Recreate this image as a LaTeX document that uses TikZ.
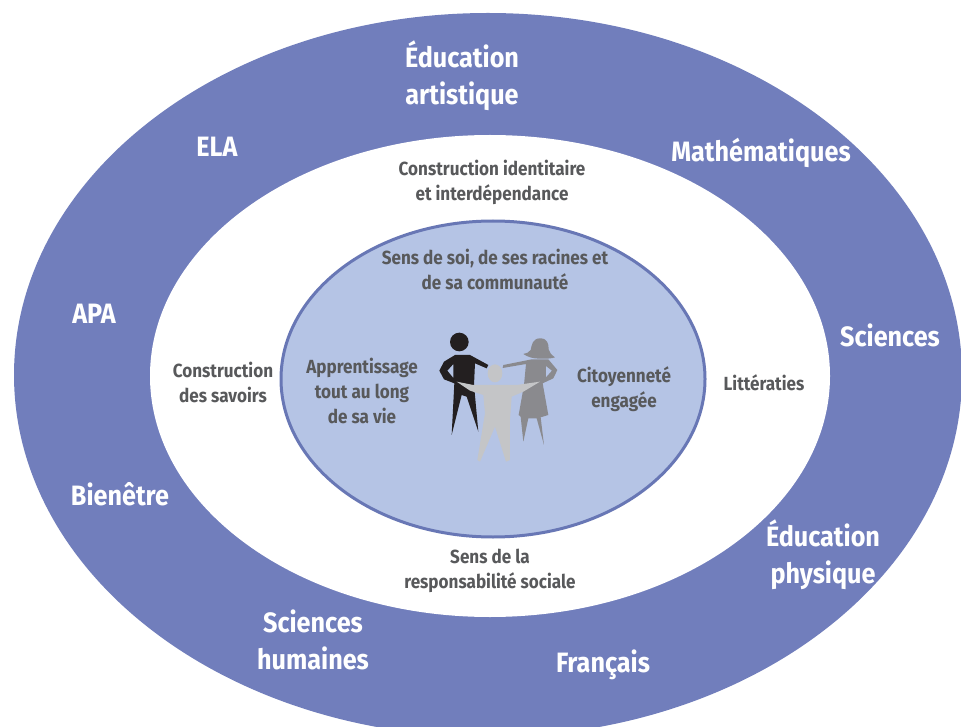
\documentclass[tikz,border=0pt]{standalone}
\usepackage{fontspec}
\setmainfont[FakeStretch=0.9]{Fira Sans}
\usepackage{tikz}
\definecolor{outerblue}{HTML}{717EBC}
\definecolor{innerblue}{HTML}{B5C4E5}
\definecolor{ringblue}{HTML}{6877B5}
\definecolor{labelgray}{HTML}{58595B}
\definecolor{adultdark}{HTML}{231F20}
\definecolor{adultgray}{HTML}{8A8A8E}
\definecolor{childgray}{HTML}{C4C5C7}
\begin{document}
\begin{tikzpicture}[x=1pt,y=-1pt,
		biglabel/.style={text=white, font=\fontsize{28}{37}\selectfont\bfseries, align=center},
		midlabel/.style={text=labelgray, font=\fontsize{19}{25}\selectfont\bfseries, align=center},
	]
	\useasboundingbox (0,0) rectangle (961,727);
	\fill[white] (0,0) rectangle (961,727);
	\fill[outerblue] (488,375) ellipse (474 and 362);
	\fill[white] (490,376) ellipse (340 and 241);
	\fill[innerblue,draw=ringblue,line width=3pt] (493,379) ellipse (212 and 158);

	\node[biglabel] (edu) at (462,76) {Éducation\\artistique};
	\node[biglabel] (ela) at (217,147) {ELA};
	\node[biglabel] (math) at (761,153) {Mathématiques};
	\node[biglabel] (apa) at (94,314) {APA};
	\node[biglabel] (sci) at (890,335) {Sciences};
	\node[biglabel] (bien) at (120,494) {Bienêtre};
	\node[biglabel] (phys) at (823,555) {Éducation\\physique};
	\node[biglabel] (hum) at (313,640) {Sciences\\humaines};
	\node[biglabel] (fr) at (603,665) {Français};

	\node[midlabel] (ident) at (492,182) {Construction identitaire\\et interdépendance};
	\node[midlabel] (sav) at (223,382) {Construction\\des savoirs};
	\node[midlabel] (litt) at (764,383) {Littératies};
	\node[midlabel] (resp) at (490,571) {Sens de la\\responsabilité sociale};
	\node[midlabel] (soi) at (495,269) {Sens de soi, de ses racines et\\de sa communauté};
	\node[midlabel] (appr) at (362,391) {Apprentissage\\tout au long\\de sa vie};
	\node[midlabel] (cit) at (624,389) {Citoyenneté\\engagée};

	% silhouettes
	\begin{scope}[shift={(420,320)},x=0.3333pt,y=-0.3333pt]
		\fill[adultdark] (118,66) circle (28);
		\fill[adultdark,even odd rule] (105,105) -- (150,105) -- (205,135) -- (200,145) -- (165,130) -- (162,195) -- (175,335) -- (140,230) -- (125,225) -- (95,345) -- (103,190) -- (72,178) -- (58,152) -- (72,125) -- cycle
			(100,132) -- (100,174) -- (82,152) -- cycle;
		\fill[adultgray] (360,55) .. controls (338,55) and (335,75) .. (332,90) .. controls (328,98) and (318,100) .. (310,102) .. controls (325,112) and (340,116) .. (360,116) .. controls (380,116) and (395,116) .. (405,112) .. controls (395,105) and (388,98) .. (386,88) .. controls (386,70) and (382,55) .. (360,55) -- cycle;
		\fill[adultgray,even odd rule] (335,118) -- (385,118) -- (412,150) -- (400,175) -- (368,190) -- (385,285) -- (362,292) -- (372,375) -- (350,295) -- (325,295) -- (310,365) -- (302,290) -- (296,285) -- (312,195) -- (318,132) -- (248,144) -- (250,135) -- cycle
			(378,138) -- (396,152) -- (378,172) -- cycle;
		\fill[childgray] (225,160) ellipse (22 and 27);
		\fill[childgray] (110,185) -- (160,195) -- (290,195) -- (360,185) -- (310,215) -- (275,230) -- (270,300) -- (270,420) -- (258,425) -- (225,320) -- (180,425) -- (172,420) -- (195,280) -- (190,225) -- (150,212) -- cycle;
	\end{scope}
\end{tikzpicture}
\end{document}
